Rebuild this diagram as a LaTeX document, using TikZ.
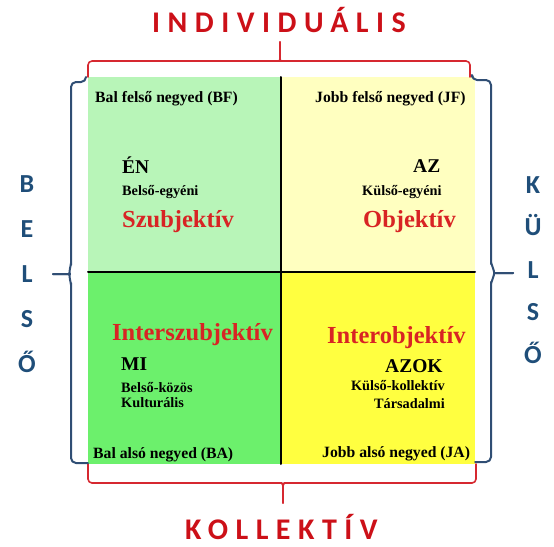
\documentclass[tikz,border=0pt]{standalone}
\usepackage{fontspec}
\setmainfont{Liberation Serif}
\newfontfamily\capfont[LetterSpace=25]{Carlito}
\newfontfamily\sidefont{Carlito}
\definecolor{tlgreen}{RGB}{184,245,184}
\definecolor{blgreen}{RGB}{108,240,108}
\definecolor{tryellow}{RGB}{255,255,192}
\definecolor{bryellow}{RGB}{255,255,64}
\definecolor{bracered}{RGB}{214,40,48}
\definecolor{capred}{RGB}{204,16,24}
\definecolor{wordred}{RGB}{216,36,36}
\definecolor{sideblue}{RGB}{31,78,121}
\definecolor{braceblue}{RGB}{48,78,116}
\begin{document}
\begin{tikzpicture}[x=1pt,y=-1pt,line join=round,line cap=round,
	qlabel/.style={font=\fontsize{15.7}{18}\selectfont\bfseries,anchor=base west,inner sep=0pt},
	pronoun/.style={font=\fontsize{19.5}{22}\selectfont\bfseries,anchor=base west,inner sep=0pt},
	small/.style={font=\fontsize{14.3}{15}\selectfont\bfseries,anchor=base west,inner sep=0pt},
	kind/.style={font=\fontsize{24.5}{28}\selectfont\bfseries,text=wordred,anchor=base west,inner sep=0pt},
	axis/.style={font=\capfont\fontsize{30}{34}\selectfont\bfseries,text=capred,anchor=base west,inner sep=0pt},
	side/.style={font=\sidefont\fontsize{26}{30}\selectfont\bfseries,text=sideblue,anchor=base,inner sep=0pt},
	redbrace/.style={draw=bracered,line width=1.6,rounded corners=4pt},
	bluebrace/.style={draw=braceblue,line width=2,rounded corners=5pt}]
	\useasboundingbox (0,0) rectangle (554,546);
	% quadrants
	\fill[tlgreen] (88,77) rectangle (281,272);
	\fill[tryellow] (281,77) rectangle (475,272);
	\fill[blgreen] (88,272) rectangle (281,464);
	\fill[bryellow] (281,272) rectangle (475,464);
	\draw[line width=2] (281,77) -- (281,464);
	\draw[line width=2] (88,272) -- (475,272);
	% braces
	\draw[redbrace] (88,77) -- (88,61) -- (276,61) to[out=0,in=-90] (280,55) -- (280,42);
	\draw[redbrace] (280,42) -- (280,55) to[out=-90,in=180] (284,61) -- (470,61) -- (470,77);
	\draw[redbrace] (88,464) -- (88,483) -- (278,483) to[out=0,in=90] (283,489) -- (283,503);
	\draw[redbrace] (283,503) -- (283,489) to[out=90,in=180] (288,483) -- (476,483) -- (476,464);
	\draw[bluebrace] (86,77) -- (86,82) -- (71,82) -- (71,268) to[out=90,in=0] (65,274) -- (53,274);
	\draw[bluebrace] (53,274) -- (65,274) to[out=0,in=-90] (71,280) -- (71,463) -- (88,463);
	\draw[bluebrace] (472,77) -- (472,80) -- (491,80) -- (491,267) to[out=90,in=180] (499,273) -- (513,273);
	\draw[bluebrace] (513,273) -- (499,273) to[out=180,in=-90] (491,279) -- (491,462) -- (475,462);
	% axis words
	\node[axis] (indiv) at (152,32) {INDIVIDUÁLIS};
	\node[axis] (koll) at (185,539) {KOLLEKTÍV};
	\foreach \ch [count=\i] in {B,E,L,S,Ő}
	{
		\node[side] (bel\i) at (27,{192+45*(\i-1)}) {\ch};
	}
	\foreach \ch [count=\i] in {K,Ü,L,S,Ő}
	{
		\node[side] (kul\i) at (533,{193+42.5*(\i-1)}) {\ch};
	}
	% top left
	\node[qlabel] (bf) at (95,102) {Bal felső negyed (BF)};
	\node[pronoun] (en) at (122,173) {ÉN};
	\node[small] (beg) at (122,195) {Belső-egyéni};
	\node[kind] (szub) at (122,227) {Szubjektív};
	% top right
	\node[qlabel] (jf) at (315,102) {Jobb felső negyed (JF)};
	\node[pronoun] (az) at (413,172) {AZ};
	\node[small] (keg) at (362,195) {Külső-egyéni};
	\node[kind] (obj) at (363,227) {Objektív};
	% bottom left
	\node[kind] (inter) at (112,340) {Interszubjektív};
	\node[pronoun] (mi) at (121,370) {MI};
	\node[small,align=left,anchor=north west,font=\fontsize{14.3}{15.5}\selectfont\bfseries] (bkoz) at (121,382) {Belső-közös\\Kulturális};
	\node[qlabel] (ba) at (93,458) {Bal alsó negyed (BA)};
	% bottom right
	\node[kind] (interobj) at (327,343) {Interobjektív};
	\node[pronoun] (azok) at (385,372) {AZOK};
	\node[small,align=right,anchor=north east,font=\fontsize{14.3}{18}\selectfont\bfseries] (kkoll) at (445,380) {Külső-kollektív\\Társadalmi};
	\node[qlabel] (ja) at (322,457) {Jobb alsó negyed (JA)};
\end{tikzpicture}
\end{document}
